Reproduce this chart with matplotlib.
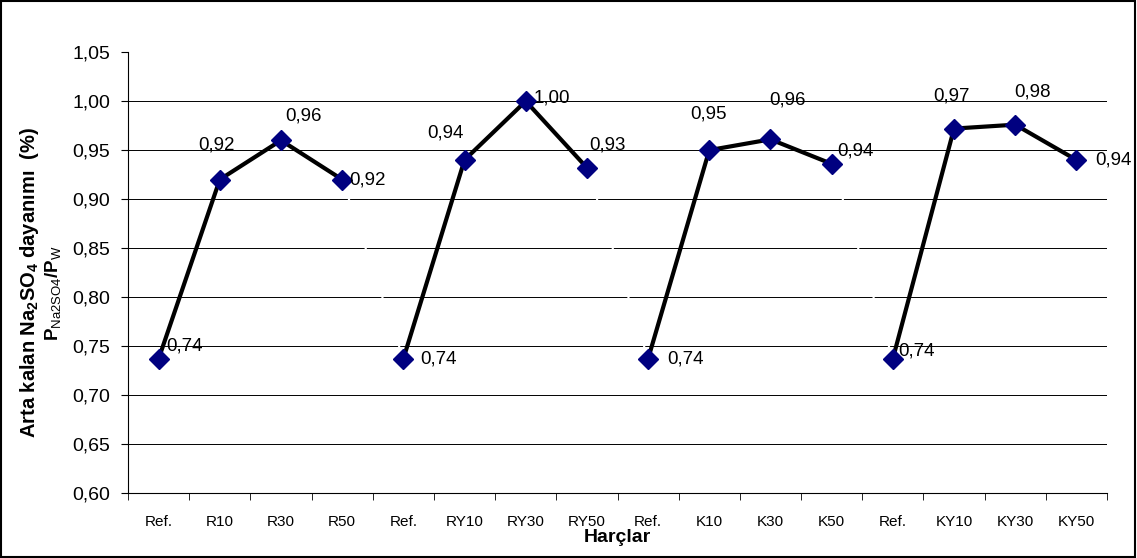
import matplotlib
matplotlib.use('Agg')
import matplotlib.pyplot as plt
from matplotlib.patches import Rectangle
import numpy as np

plt.rcParams['font.family'] = ['Liberation Sans', 'DejaVu Sans']
plt.rcParams['mathtext.fontset'] = 'custom'
plt.rcParams['mathtext.rm'] = 'Liberation Sans'
plt.rcParams['mathtext.bf'] = 'Liberation Sans:bold'

# harç gruplari ve degerleri
labels = ['Ref.', 'R10', 'R30', 'R50',
          'Ref.', 'RY10', 'RY30', 'RY50',
          'Ref.', 'K10', 'K30', 'K50',
          'Ref.', 'KY10', 'KY30', 'KY50']
grp_r = [0.737, 0.92, 0.96, 0.92]
grp_ry = [0.737, 0.94, 1.00, 0.932]
grp_k = [0.737, 0.95, 0.961, 0.936]
grp_ky = [0.737, 0.972, 0.976, 0.94]
groups = [grp_r, grp_ry, grp_k, grp_ky]

# etiket kaydirmalari (piksel)
lbl_dx = [26, -3, 23, 25, 35, -19, 26, 21, 37, -1, 17, 24, 24, -3, 17, 37]
lbl_dy = [-13, -35, -24, 0, 0, -27, -3, -23, 0, -36, -39, -13, -8, -33, -33, 0]

vals = np.concatenate(groups)
x = np.arange(len(vals))

fig = plt.figure(figsize=(11.37, 5.58), dpi=100)
ax = fig.add_axes([0.1126, 0.1165, 0.861, 0.790])

for y in np.arange(0.65, 1.01, 0.05):
    ax.axhline(y, color='black', lw=0.7, zorder=1)

# gruplar arasi beyaz baglanti
ax.plot(x, vals, color='white', lw=1.5, zorder=2)
for i, g in enumerate(groups):
    xs = x[i*4:(i+1)*4]
    ax.plot(xs, g, color='black', lw=3, zorder=3)
ax.plot(x, vals, ls='none', marker='D', ms=10, color='#000080', zorder=4)

for i, v in enumerate(vals):
    ax.annotate(('%.2f' % v).replace('.', ','), (x[i], v),
                xytext=(lbl_dx[i]*0.72, -lbl_dy[i]*0.72), textcoords='offset points',
                ha='center', va='center', fontsize=13.5, zorder=5)

ax.set_xlim(-0.5, 15.5)
ax.set_ylim(0.60, 1.05)
ax.set_yticks(np.arange(0.60, 1.051, 0.05))
ax.set_yticklabels([('%.2f' % t).replace('.', ',') for t in np.arange(0.60, 1.051, 0.05)],
                   fontsize=14)
ax.set_xticks(x)
ax.set_xticklabels(labels, fontsize=11)
ax.set_xticks(np.arange(-0.5, 16, 1), minor=True)
ax.tick_params(axis='x', which='major', length=0, pad=16)
ax.tick_params(axis='x', which='minor', length=5, direction='out', color='black')
ax.tick_params(axis='y', length=5, direction='out', pad=8, color='black')
ax.spines['top'].set_visible(False)
ax.spines['right'].set_visible(False)
for s in ['left', 'bottom']:
    ax.spines[s].set_color('black')
    ax.spines[s].set_linewidth(0.8)

fig.text(0.5427, 0.036, 'Harçlar', fontsize=14, fontweight='bold', ha='center', va='center')
fig.text(0.026, 0.4946, r'Arta kalan Na$\mathbf{_2}$SO$\mathbf{_4}$ dayanımı  (%)',
         rotation=90, fontsize=14.5, fontweight='bold', ha='center', va='center')
fig.text(0.047, 0.475, r'$\mathbf{P}_{\mathrm{Na2SO4}}\mathbf{/P}_{\mathrm{W}}$',
         rotation=90, fontsize=13.5, ha='center', va='center')

fig.patches.append(Rectangle((0.001, 0.002), 0.997, 0.996, transform=fig.transFigure,
                             fill=False, edgecolor='black', lw=1.5))

fig.savefig('out.png', dpi=100)
